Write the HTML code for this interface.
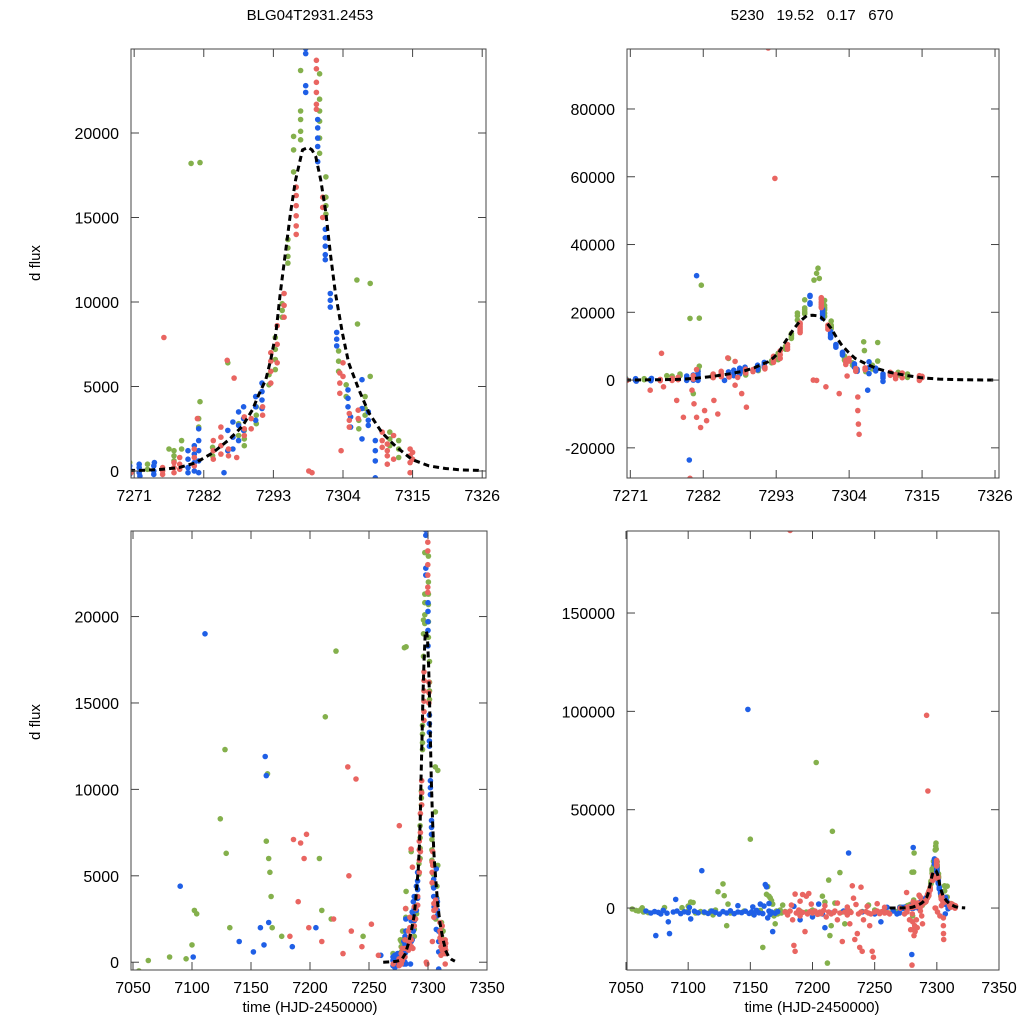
<!DOCTYPE html>
<html><head><meta charset="utf-8"><style>
html,body{margin:0;padding:0;background:#fff;overflow:hidden;width:1024px;height:1024px;}
svg{display:block;}
svg text{font-family:"Liberation Sans",Arial,sans-serif;fill:#000;}
</style></head><body>
<svg id="chart" xmlns="http://www.w3.org/2000/svg" width="1024" height="1024" viewBox="0 0 1024 1024">
<rect x="0" y="0" width="1024" height="1024" fill="#fff"/>
<text x="310" y="20" font-size="15" text-anchor="middle">BLG04T2931.2453</text>
<text x="812" y="20" font-size="15" text-anchor="middle" xml:space="preserve">5230   19.52   0.17   670</text>
<text x="40" y="263" font-size="15" text-anchor="middle" transform="rotate(-90 40 263)">d flux</text>
<text x="40" y="722" font-size="15" text-anchor="middle" transform="rotate(-90 40 722)">d flux</text>
<text x="310" y="1012" font-size="15" text-anchor="middle">time (HJD-2450000)</text>
<text x="812" y="1012" font-size="15" text-anchor="middle">time (HJD-2450000)</text>
</svg>
<script>
// ---- data ----
const blueT = [7270.3,7270.3,7270.3,7271.8,7271.8,7271.8,7271.9,7274.1,7274.1,7274.1,7274.2,7279.5,7279.5,7279.5,7279.5,7280.5,7280.5,7280.5,7280.5,7281.2,7281.2,7281.2,7281.2,7281.2,7285.8,7285.8,7285.2,7286.6,7286.6,7286.6,7287.5,7287.5,7287.5,7288.3,7288.3,7288.3,7290.2,7290.2,7290.2,7291.2,7291.2,7291.2,7291.2,7298.1,7298.1,7298.1,7298.1,7300.0,7300.0,7300.0,7300.0,7300.0,7301.2,7301.2,7301.2,7301.2,7301.2,7302.0,7302.0,7302.0,7303.0,7303.0,7303.0,7304.8,7304.8,7304.8,7305.2,7305.2,7307.0,7307.0,7307.0,7308.0,7308.0,7308.0,7309.1,7309.1,7309.1,7309.1,7281,7279.9,7306.8,
7066,7070,7073,7074,7076,7078,7080,7083,7084,7085,7088,7090,7091,7094,7097,7100,7102,7105,7108,7111,7113,7116,7119,7122,7125,7128,7131,7134,7137,7140,7143,7146,7148,7149,7151,7153,7155,7157,7158,7160,7161,7162,7163,7164,7165,7166,7167,7168,7170,7172,7190,7200,7205,7208,7210,7215,7225,7229,7240,7250,7255,7265,7268,7270,7165,7152,7101,7185,7260,7140];
const blueF = [100,-200,300,-100,200,400,-300,0,300,-200,500,700,1200,200,-100,1500,1000,500,0,2500,1800,1200,600,-100,2400,1200,-100,2900,2000,1300,3500,2700,1800,3800,3100,2400,4400,3800,3000,5200,4700,4200,3700,25000,24700,22800,22400,20800,20300,19700,19200,18300,14300,13800,13300,12800,12500,10500,10100,9700,8200,7800,7400,4800,4300,3800,3200,2600,5400,1900,3700,3500,3000,2700,1800,1200,600,-400,30800,-23600,-3000,
-1500,-2500,-1800,-14000,-2200,-3000,-1200,-2600,-7000,-13000,-2000,4400,-1500,-2800,-1900,-2300,-5500,-1600,-2400,19000,-2000,-2700,-1500,-2200,-3100,-1800,-2500,-1400,-2900,-2000,-2300,-1600,101000,-2700,-1900,-3500,-1200,-2400,2000,-2800,1000,11900,10800,-5000,-1500,-3200,-2000,-12000,-2600,-1800,-6000,-4500,2000,-3000,-10000,-2500,-1500,28000,-2000,-3000,-7000,-1500,-3000,-2500,2300,600,300,900,400,1200];

const greenT = [7270.3,7273.1,7273.1,7277.3,7277.3,7277.3,7278.5,7278.5,7281.2,7281.2,7281.4,7281.4,7276.5,7283.4,7283.4,7285.8,7287.5,7287.5,7288.4,7288.4,7288.4,7290.3,7290.3,7290.3,7292.3,7292.3,7293.3,7293.3,7293.3,7293.3,7294.4,7294.4,7294.4,7295.3,7295.3,7295.3,7295.3,7296.2,7296.2,7296.2,7297.3,7297.3,7297.3,7297.3,7297.3,7300.3,7300.3,7300.3,7300.3,7300.3,7300.3,7301.3,7301.3,7301.3,7301.3,7303.3,7303.3,7303.3,7304.5,7304.5,7306.3,7306.5,7306.5,7307.5,7307.5,7307.5,7308.3,7308.3,7311.4,7311.4,7311.4,7312.8,7312.8,7312.8,7281.7,7299.3,7299.1,7299.5,7298.7,7280.5,7306.2,
7055,7058,7060,7062,7064,7066,7068,7080,7095,7100,7102,7104,7100,7106,7110,7113,7118,7120,7122,7124,7128,7129,7131,7132,7134,7145,7150,7152,7158,7160,7163,7164,7165,7166,7167,7168,7169,7170,7171,7172,7174,7175,7176,7178,7180,7190,7195,7200,7203,7205,7208,7210,7212,7213,7214,7215,7216,7218,7222,7224,7226,7230,7240,7245,7250,7255,7258,7262,7265,7268,7280,7063,7081];
const greenF = [500,400,100,1200,900,600,1800,1300,3100,2600,18250,4100,1300,1400,900,6400,2800,2100,2400,1900,1500,3800,3300,2800,5700,5100,7900,7200,6600,6000,9900,9500,9100,13700,13200,12700,12300,17700,19800,19000,23700,21300,20800,20100,19600,23500,22000,21300,20700,19700,18800,16200,15700,15200,17400,7100,6500,5900,5100,4400,8700,3000,2500,4400,3700,3300,11100,5600,2300,1900,1500,1800,1300,800,28000,33000,31500,30000,29500,-4000,11300,
-500,-1200,-1500,-800,-2000,-1700,-2300,-1000,200,1000,3000,2800,-1500,-2500,-1800,-2300,-1500,-3500,-1000,8300,12300,6300,-9000,2000,-2500,-1500,35000,-3000,-1200,-20000,7000,10900,6000,5200,3800,2000,-4000,-8000,-1500,-3000,-1000,-2500,1500,-1800,-2200,-1500,-2000,-1000,74000,-3000,6000,3000,-28000,14200,-14000,-9000,39000,2500,18000,-2000,-8000,-1500,-1800,1500,-1000,-2000,-1500,-2500,-1000,-1800,18200,100,300];

const redT = [7270.5,7275.5,7275.5,7275.5,7275.7,7277.3,7277.3,7277.3,7278.2,7278.2,7278.2,7280.5,7280.5,7280.5,7281,7283.5,7283.5,7283.5,7284.7,7284.7,7284.7,7284.7,7285.7,7286.8,7285.9,7285.9,7287.2,7288.4,7288.4,7288.4,7289.5,7289.5,7291.3,7291.3,7292.6,7292.6,7292.6,7292.6,7293.6,7293.6,7293.6,7294.7,7294.7,7294.7,7296.6,7296.6,7296.6,7296.6,7296.6,7296.6,7299.1,7299.8,7299.8,7299.8,7299.8,7299.8,7299.8,7300.8,7300.8,7300.8,7303.5,7303.5,7303.5,7304.0,7304.0,7305.0,7305.0,7305.0,7306.4,7306.4,7303.7,7310.2,7310.2,7310.2,7311.0,7311.0,7311.0,7311.0,7312.0,7312.0,7314.6,7314.6,7314.6,7314.6,7315.0,7315.0,
7291.8,7292.8,7280.3,7280.6,7281,7281.6,7282.2,7282.5,7280.0,7283.6,7284.2,7287.8,7288.5,7298.6,7305.3,7305.3,7305.4,7305.5,7300.5,7302.5,7286.8,
7178,7180,7182,7184,7185,7186,7187,7189,7190,7192,7194,7195,7196,7198,7200,7202,7204,7206,7207,7209,7211,7213,7215,7217,7218,7220,7222,7224,7226,7228,7229,7230,7231,7232,7233,7234,7236,7237,7238,7239,7240,7241,7243,7245,7246,7247,7248,7249,7250,7252,7254,7256,7258,7260,7262,7274,7276,7278,7279,7182,7183,7190,7199,7192,7210,7220,7228,7235,7244,7252,7258,7186,7197,7239];
const redF = [-100,0,200,-200,7900,500,200,-100,800,400,100,1300,800,300,3100,1800,1200,700,2600,2000,1500,1000,6550,5500,1300,900,800,3200,2500,2100,3100,2500,3800,3300,7000,6500,5900,5200,8600,7500,6400,10500,9800,9100,16800,16300,15700,15100,14500,14000,-100,24300,23800,23000,22400,21700,21400,16200,15600,15000,5800,5200,4600,6400,5600,3400,3000,2600,3600,3100,1200,2300,1800,1400,1600,1200,900,400,2100,700,1300,900,500,-100,1100,700,
98000,59500,-3000,-7000,-11000,-14000,-9000,-12000,-29000,-6000,-10000,-4000,-8000,0,-5000,-9000,-13000,-16000,-2000,-4000,-1500,
-2000,-3500,-1500,-6000,-19000,-22000,-2500,-1000,-4000,-2200,-12000,6000,-3000,-1800,-2500,-1500,-3200,-2000,-2800,-1200,-4500,-2000,-3000,-2300,-1500,-6000,-2500,-17000,-2000,-3500,-1500,-8000,-2200,11300,5000,-16000,-13000,-3000,-20000,-2000,-22000,-6000,-1800,-2500,-9000,-3000,-22000,-25000,-2000,-1500,-2800,-1800,-2500,-2200,-3000,-3000,-2000,-6000,-11000,192000,1500,3500,2000,6900,1200,2500,500,1800,900,2200,400,7100,7400,10600];

// model curve samples
const modelT = [7262,7270.2,7272.8,7275.5,7278.1,7280.7,7283.4,7286.0,7288.1,7289.7,7290.7,7291.8,7292.6,7293.4,7294.1,7294.9,7295.7,7296.5,7297.6,7298.5,7299.1,7299.7,7300.5,7301.3,7302.0,7302.8,7303.9,7304.9,7306.5,7308.1,7310.2,7312.3,7314.9,7317.6,7320.2,7322.8,7326];
const modelF = [0,30,50,100,200,480,1070,1860,2650,3630,4520,5410,6590,8160,10530,12900,15260,17200,19000,19150,19000,18600,17200,15260,12900,10530,8160,6390,4820,3440,2250,1470,680,300,150,60,30];

const panelTitles = ["top-left","top-right","bottom-left","bottom-right"];
const xTicksTop = [7271,7282,7293,7304,7315,7326];
const xTicksBottom = [7050,7100,7150,7200,7250,7300,7350];
const yTicksTL = [0,5000,10000,15000,20000];
const yTicksTR = [-20000,0,20000,40000,60000,80000];
const yTicksBL = [0,5000,10000,15000,20000];
const yTicksBR = [0,50000,100000,150000];

const NS = "http://www.w3.org/2000/svg";
const svg = document.getElementById('chart');
const panels = [
  {x0:131,x1:486,y0:49,y1:478,t0:7270.5,t1:7326.6,f0:-414,f1:24970,xt:xTicksTop,yt:yTicksTL,mStart:1,mEnd:7326},
  {x0:627,x1:999,y0:49,y1:478,t0:7270.5,t1:7326.6,f0:-28900,f1:97700,xt:xTicksTop,yt:yTicksTR,mStart:1,mEnd:7326},
  {x0:131,x1:487,y0:531,y1:970,t0:7048.3,t1:7350,f0:-450,f1:24950,xt:xTicksBottom,yt:yTicksBL,mStart:0,mEnd:7324},
  {x0:627,x1:999,y0:531,y1:970,t0:7050.8,t1:7350,f0:-31500,f1:191700,xt:xTicksBottom,yt:yTicksBR,mStart:0,mEnd:7324}
];
function mk(tag, attrs){const e=document.createElementNS(NS,tag);for(const k in attrs)e.setAttribute(k,attrs[k]);return e;}
panels.forEach((p,i)=>{
  const sx=t=>p.x0+(t-p.t0)/(p.t1-p.t0)*(p.x1-p.x0);
  const sy=f=>p.y1-(f-p.f0)/(p.f1-p.f0)*(p.y1-p.y0);
  const g=mk('g',{});
  
  
  svg.appendChild(g);
  const cp=mk('clipPath',{id:'clip'+i});
  cp.appendChild(mk('rect',{x:p.x0,y:p.y0,width:p.x1-p.x0,height:p.y1-p.y0}));
  g.appendChild(cp);
  const pts=mk('g',{'clip-path':'url(#clip'+i+')'});
  
  
  g.appendChild(pts);
  const series=[[greenT,greenF,'#84b04c','green'],[blueT,blueF,'#1f5fe6','blue'],[redT,redF,'#e96561','red']];
  series.forEach(s=>{
    for(let k=0;k<s[0].length;k++){
      const c=mk('circle',{cx:sx(s[0][k]).toFixed(1),cy:sy(s[1][k]).toFixed(1),r:2.8,fill:s[2]});
      
      
      pts.appendChild(c);
    }
  });
  let d='';
  for(let k=p.mStart;k<modelT.length;k++){
    if(modelT[k]>p.mEnd) break;
    d+=(d?'L':'M')+sx(modelT[k]).toFixed(1)+','+sy(modelF[k]).toFixed(1);
  }
  const path=mk('path',{d:d,fill:'none',stroke:'#000','stroke-width':3,'stroke-dasharray':'6,4','stroke-linejoin':'round'});
  
  
  pts.appendChild(path);
  const fr=mk('rect',{x:p.x0,y:p.y0,width:p.x1-p.x0,height:p.y1-p.y0,fill:'none',stroke:'#444','stroke-width':1});
  
  
  g.appendChild(fr);
  p.xt.forEach(v=>{
    const x=sx(v);
    g.appendChild(mk('line',{x1:x,x2:x,y1:p.y1,y2:p.y1-8,stroke:'#444'}));
    g.appendChild(mk('line',{x1:x,x2:x,y1:p.y0,y2:p.y0+8,stroke:'#444'}));
    const tx=mk('text',{x:x,y:p.y1+23,'font-size':16,'text-anchor':'middle'});
    
    
    tx.textContent=v;g.appendChild(tx);
  });
  p.yt.forEach(v=>{
    const y=sy(v);
    g.appendChild(mk('line',{x1:p.x0,x2:p.x0+8,y1:y,y2:y,stroke:'#444'}));
    g.appendChild(mk('line',{x1:p.x1,x2:p.x1-8,y1:y,y2:y,stroke:'#444'}));
    const tx=mk('text',{x:p.x0-12,y:y+6,'font-size':16,'text-anchor':'end'});
    
    
    tx.textContent=v;g.appendChild(tx);
  });
});
</script>
</body></html>
